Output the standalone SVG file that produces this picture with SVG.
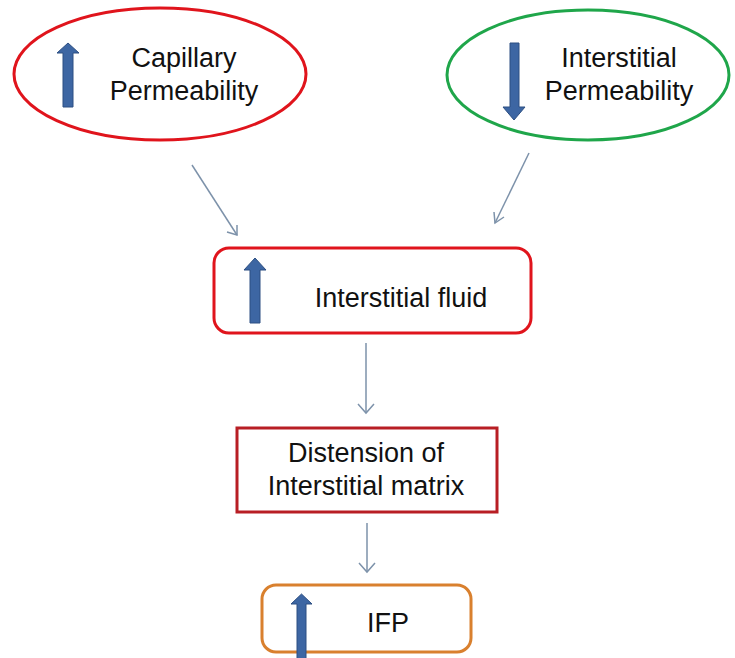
<svg xmlns="http://www.w3.org/2000/svg" width="735" height="658" viewBox="0 0 735 658">
<defs>
<style>
.t{font-family:"Liberation Sans",Arial,sans-serif;font-size:27px;fill:#111;text-anchor:middle}
.conn{stroke:#7d92aa;stroke-width:1.5;fill:none}
.head{stroke:#7d92aa;stroke-width:1.5;fill:none}
.bl{fill:#3d66a3;stroke:#2d4f82;stroke-width:1}
</style>
</defs>
<rect width="735" height="658" fill="#fff"/>
<g id="capillary">
<ellipse cx="160" cy="74" rx="146" ry="66" fill="#fff" stroke="#e0141c" stroke-width="3"/>
<polygon class="bl" points="68,43 79,53 73,53 73,107 63,107 63,53 57,53"/>
<text class="t" x="184" y="67">Capillary</text>
<text class="t" x="184" y="100">Permeability</text>
</g>
<g id="interstitialperm">
<ellipse cx="588" cy="75" rx="141" ry="65" fill="#fff" stroke="#1fa64a" stroke-width="3"/>
<polygon class="bl" points="510,43 519,43 519,107 525,107 514,120 503,107 510,107"/>
<text class="t" x="619" y="67">Interstitial</text>
<text class="t" x="619" y="100">Permeability</text>
</g>
<g id="fluid">
<rect x="214" y="248" width="317" height="85" rx="15" fill="#fff" stroke="#e0141c" stroke-width="3"/>
<polygon class="bl" points="255,258 266,270 260,270 260,323 250,323 250,270 244,270"/>
<text class="t" x="401" y="307">Interstitial fluid</text>
</g>
<g id="distension">
<rect x="237" y="428" width="260" height="84" fill="#fff" stroke="#b81e24" stroke-width="3"/>
<text class="t" x="366" y="462">Distension of</text>
<text class="t" x="366" y="495">Interstitial matrix</text>
</g>
<g id="ifp">
<rect x="262" y="585" width="209" height="67" rx="14" fill="#fff" stroke="#d9802e" stroke-width="3"/>
<polygon class="bl" points="301.5,594 312,604 306,604 306,660 297,660 297,604 291,604"/>
<text class="t" x="388" y="632">IFP</text>
</g>
<g id="connectors">
<line class="conn" x1="192" y1="165" x2="237" y2="235"/>
<polyline class="head" points="227,232 237,235 237,225"/>
<line class="conn" x1="529" y1="153" x2="495" y2="223"/>
<polyline class="head" points="494,212 495,223 504,217"/>
<line class="conn" x1="366" y1="343" x2="366" y2="413"/>
<polyline class="head" points="358,404 366,413 374,404"/>
<line class="conn" x1="367" y1="523" x2="367" y2="572"/>
<polyline class="head" points="359,563 367,572 375,563"/>
</g>
</svg>
